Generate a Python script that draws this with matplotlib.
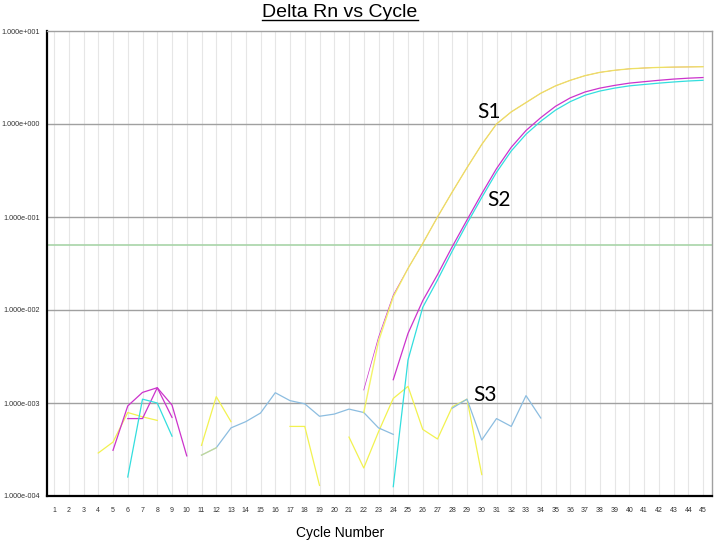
import numpy as np
import matplotlib
matplotlib.use("Agg")
import matplotlib.pyplot as plt
from matplotlib.lines import Line2D
from matplotlib.ticker import FixedLocator, FuncFormatter

plt.rcParams['font.family'] = ['Liberation Sans', 'DejaVu Sans']

# Delta Rn values; each series = (first cycle, values)
cycles = np.arange(1, 46)
threshold = 0.05

# amplification curves
s1_yellow = (22, [7.9e-4, 4.6e-3, 1.38e-2, 2.8e-2, 5.2e-2, 0.100, 0.186, 0.339, 0.603,
                  1.00, 1.35, 1.70, 2.14, 2.57, 2.95, 3.31, 3.59, 3.78, 3.92, 4.00,
                  4.06, 4.09, 4.11, 4.13])
s1_magenta = (22, [1.38e-3, 5.1e-3, 1.45e-2, 2.8e-2, 5.2e-2, 0.100, 0.186, 0.339, 0.603,
                   1.00, 1.35, 1.70, 2.14, 2.57, 2.95, 3.31, 3.59, 3.78, 3.92, 4.00,
                   4.06, 4.09, 4.11, 4.13])
s2_magenta = (24, [1.78e-3, 5.6e-3, 1.26e-2, 2.4e-2, 4.8e-2, 9.3e-2, 0.178, 0.331, 0.562,
                   0.851, 1.17, 1.55, 1.91, 2.21, 2.43, 2.60, 2.75, 2.85, 2.95, 3.04,
                   3.11, 3.16])
s2_cyan = (24, [1.26e-4, 2.9e-3, 1.07e-2, 2.1e-2, 4.3e-2, 8.5e-2, 0.162, 0.302, 0.513,
                0.776, 1.07, 1.41, 1.74, 2.04, 2.26, 2.43, 2.57, 2.66, 2.75, 2.83,
                2.90, 2.95])

# background noise
yellow_a = (4, [2.9e-4, 3.8e-4, 7.9e-4, 7.1e-4, 6.5e-4])
yellow_b = (11, [3.5e-4, 1.17e-3, 6.3e-4])
yellow_c = (11, [2.75e-4, 3.3e-4])
yellow_d = (17, [5.6e-4, 5.6e-4, 1.3e-4])
yellow_e = (21, [4.3e-4, 2.0e-4, 4.9e-4, 1.12e-3, 1.51e-3, 5.2e-4, 4.1e-4, 9.1e-4,
                 1.10e-3, 1.7e-4])
magenta_a = (5, [3.1e-4, 9.3e-4, 1.30e-3, 1.46e-3, 9.5e-4, 2.7e-4])
magenta_b = (6, [6.8e-4, 6.8e-4, 1.46e-3, 7.0e-4])
cyan_a = (6, [1.6e-4, 1.10e-3, 1.0e-3, 4.4e-4])
blue_a = (11, [2.75e-4, 3.3e-4, 5.4e-4, 6.3e-4, 7.8e-4, 1.29e-3, 1.06e-3, 9.8e-4,
               7.2e-4, 7.6e-4, 8.6e-4, 7.9e-4, 5.4e-4, 4.6e-4])
blue_b = (28, [8.8e-4, 1.10e-3, 4.0e-4, 6.8e-4, 5.6e-4, 1.20e-3, 6.9e-4])

YELLOW = '#f2f250'
MAGENTA = '#cc33cc'
CYAN = '#33dede'
BLUE = '#8cbde0'

fig = plt.figure(figsize=(7.14, 5.45), dpi=100)
ax = fig.add_axes([47 / 714, 1 - 496 / 545, 665 / 714, 465 / 545])

ax.set_yscale('log')
ax.set_ylim(1e-4, 10)
ax.set_xlim(0.525, 45.61)

for c in cycles:
    ax.axvline(c, color='#e6e6e6', lw=0.8, zorder=0)
for d in [1e-3, 1e-2, 1e-1, 1]:
    ax.axhline(d, color='#a0a0a0', lw=1.0, zorder=1)
ax.axhline(threshold, color='#a8d4a8', lw=1.2, zorder=1)


def draw(series, color, lw=0.9, **kw):
    start, vals = series
    x = np.arange(start, start + len(vals))
    ax.plot(x, vals, color=color, lw=lw, zorder=3, **kw)


draw(yellow_a, YELLOW)
draw(yellow_b, YELLOW)
draw(yellow_d, YELLOW)
draw(yellow_e, YELLOW)
draw(magenta_a, MAGENTA)
draw(magenta_b, MAGENTA)
draw(cyan_a, CYAN)
draw(blue_a, BLUE)
draw(blue_b, BLUE)
draw(yellow_c, YELLOW, alpha=0.5)

draw(s2_cyan, CYAN)
draw(s2_magenta, MAGENTA)
draw(s1_magenta, MAGENTA, lw=0.5)
draw(s1_yellow, YELLOW, lw=1.0, alpha=0.85)

lab = dict(fontsize=15, family=['Lato', 'DejaVu Sans'], ha='center', va='center',
           color='black', zorder=5)
ax.text(30.5, 1.36, 'S1', **lab)
ax.text(31.17, 0.152, 'S2', **lab)
ax.text(30.2, 1.23e-3, 'S3', **lab)

ax.xaxis.set_major_locator(FixedLocator(cycles))
ax.set_xticklabels([str(c) for c in cycles])
ax.yaxis.set_major_locator(FixedLocator([1e-4, 1e-3, 1e-2, 1e-1, 1, 10]))
ax.yaxis.set_minor_locator(FixedLocator([]))
ax.yaxis.set_major_formatter(FuncFormatter(
    lambda v, p: '1.000e%+04d' % int(round(np.log10(v)))))
ax.tick_params(axis='x', length=0, pad=8, labelsize=5, labelcolor='#333333')
ax.tick_params(axis='y', length=0, pad=5, labelsize=5.2, labelcolor='#333333')

for s in ['left', 'bottom']:
    ax.spines[s].set_color('black')
    ax.spines[s].set_linewidth(1.6)
for s in ['top', 'right']:
    ax.spines[s].set_color('#a0a0a0')
    ax.spines[s].set_linewidth(1.0)

title = fig.text(340 / 714, 1 - 17 / 545, 'Delta Rn vs Cycle', fontsize=14,
                 ha='center', va='baseline')
fig.text(340 / 714, 1 - 537 / 545, 'Cycle Number', fontsize=10,
         ha='center', va='baseline')

fig.canvas.draw()
bb = title.get_window_extent(fig.canvas.get_renderer())
x0, x1 = bb.x0 / fig.bbox.width, bb.x1 / fig.bbox.width
yl = 1 - 20 / 545
fig.add_artist(Line2D([x0, x1], [yl, yl], transform=fig.transFigure,
                      color='black', lw=1.0))

fig.savefig('out.png', dpi=100)
